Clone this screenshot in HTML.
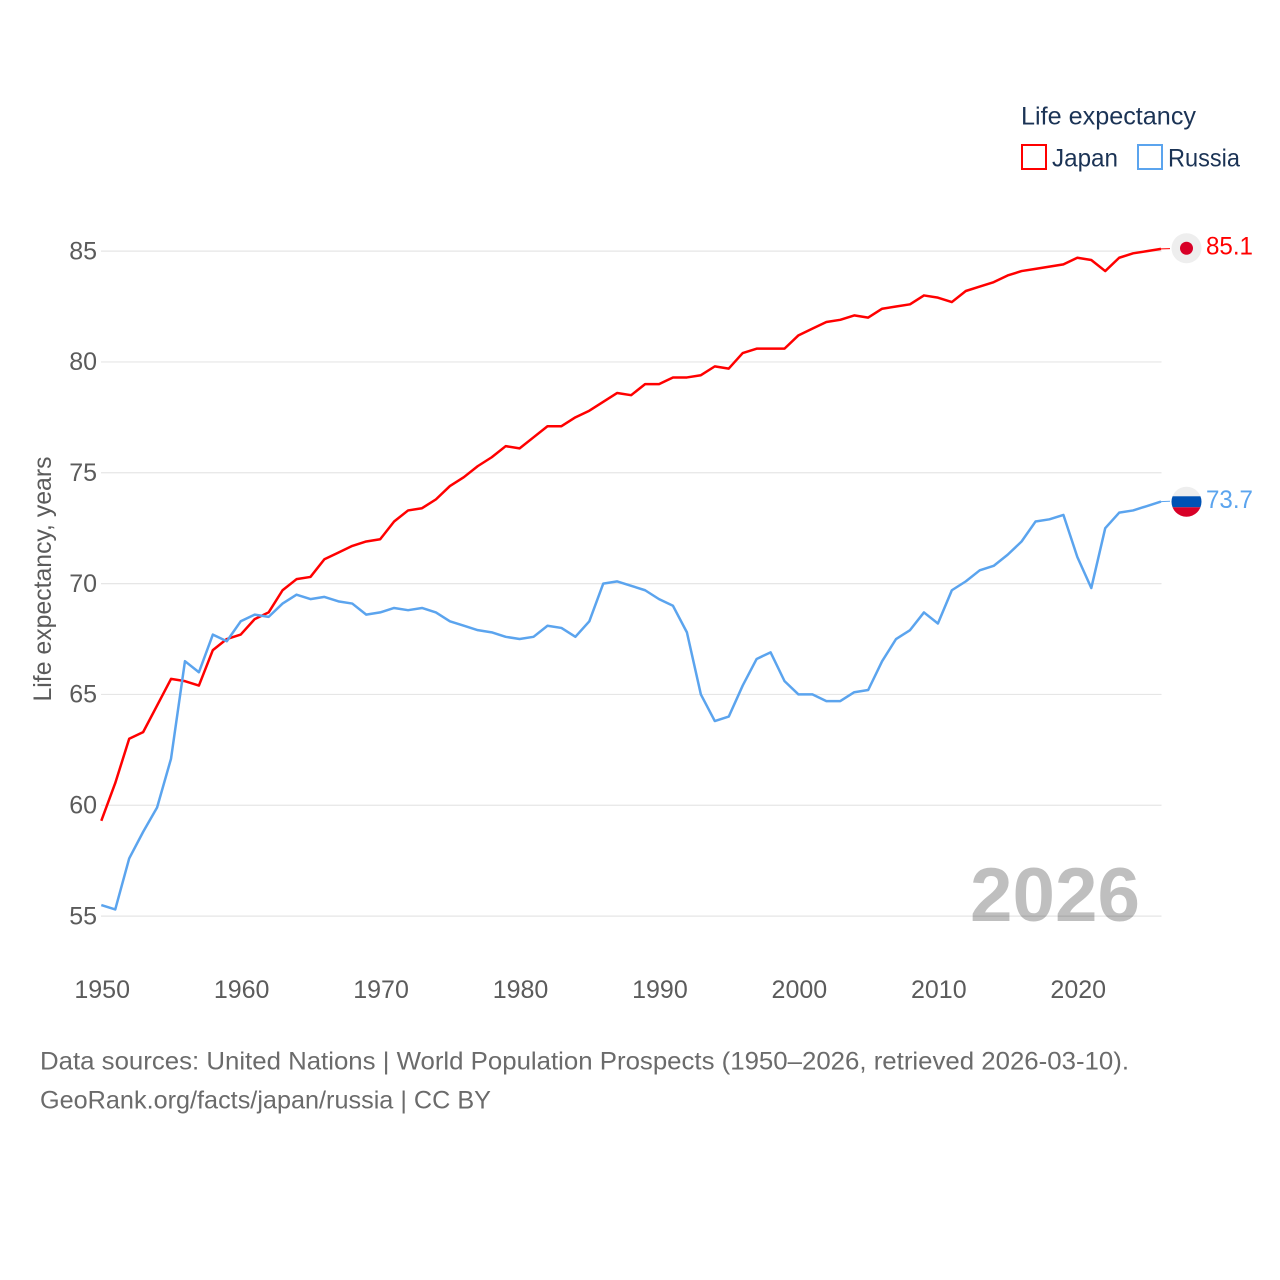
<!DOCTYPE html>
<html lang="en">
<head>
<meta charset="utf-8">
<title>Life expectancy: Japan and Russia</title>
<style>
html,body{margin:0;padding:0;background:#fff}
svg{display:block}
text{font-family:"Liberation Sans",sans-serif}
</style>
</head>
<body>
<svg id="chart" xmlns="http://www.w3.org/2000/svg" width="1280" height="1280" viewBox="0 0 1280 1280">
  <rect width="1280" height="1280" fill="#fff"/>
  <g id="grid"></g>
  <g id="yticks"></g>
  <g id="xticks"></g>
  <text transform="translate(51,579) rotate(-90)" text-anchor="middle" font-size="25" fill="#5b5b5b" textLength="245" lengthAdjust="spacingAndGlyphs">Life expectancy, years</text>
  <text x="970" y="921" font-size="76" font-weight="bold" fill="#000" fill-opacity="0.25" textLength="170" lengthAdjust="spacingAndGlyphs">2026</text>
  <g id="series"></g>
  <g>
    <text x="1021" y="124.5" font-size="25" fill="#1b3355" textLength="175" lengthAdjust="spacingAndGlyphs">Life expectancy</text>
    <rect x="1022" y="145" width="24" height="24" fill="#fff" stroke="#ff0000" stroke-width="2"/>
    <text x="1052" y="166.5" font-size="25" fill="#1b3355" textLength="66" lengthAdjust="spacingAndGlyphs">Japan</text>
    <rect x="1138" y="145" width="24" height="24" fill="#fff" stroke="#5ba4ee" stroke-width="2"/>
    <text x="1168" y="166.5" font-size="25" fill="#1b3355" textLength="72" lengthAdjust="spacingAndGlyphs">Russia</text>
  </g>
  <defs>
    <clipPath id="russia-clip"><circle id="russia-clip-circle" r="15"/></clipPath>
  </defs>
  <g id="end-markers"></g>
  <text x="40" y="1069.5" font-size="25" fill="#6b6b6b" textLength="1089" lengthAdjust="spacingAndGlyphs">Data sources: United Nations | World Population Prospects (1950–2026, retrieved 2026-03-10).</text>
  <text x="40" y="1108.5" font-size="25" fill="#6b6b6b" textLength="451" lengthAdjust="spacingAndGlyphs">GeoRank.org/facts/japan/russia | CC BY</text>
</svg>
<script>
const startYear = 1950;
const japanValues = [59.3,61.0,63.0,63.3,64.5,65.7,65.6,65.4,67.0,67.5,67.7,68.4,68.7,69.7,70.2,70.3,71.1,71.4,71.7,71.9,72.0,72.8,73.3,73.4,73.8,74.4,74.8,75.3,75.7,76.2,76.1,76.6,77.1,77.1,77.5,77.8,78.2,78.6,78.5,79.0,79.0,79.3,79.3,79.4,79.8,79.7,80.4,80.6,80.6,80.6,81.2,81.5,81.8,81.9,82.1,82.0,82.4,82.5,82.6,83.0,82.9,82.7,83.2,83.4,83.6,83.9,84.1,84.2,84.3,84.4,84.7,84.6,84.1,84.7,84.9,85.0,85.1];
const russiaValues = [55.5,55.3,57.6,58.8,59.9,62.1,66.5,66.0,67.7,67.4,68.3,68.6,68.5,69.1,69.5,69.3,69.4,69.2,69.1,68.6,68.7,68.9,68.8,68.9,68.7,68.3,68.1,67.9,67.8,67.6,67.5,67.6,68.1,68.0,67.6,68.3,70.0,70.1,69.9,69.7,69.3,69.0,67.8,65.0,63.8,64.0,65.4,66.6,66.9,65.6,65.0,65.0,64.7,64.7,65.1,65.2,66.5,67.5,67.9,68.7,68.2,69.7,70.1,70.6,70.8,71.3,71.9,72.8,72.9,73.1,71.2,69.8,72.5,73.2,73.3,73.5,73.7];
const yTickValues = [55,60,65,70,75,80,85];
const xTickValues = [1950,1960,1970,1980,1990,2000,2010,2020];

const NS = 'http://www.w3.org/2000/svg';
const xScale = function (year) { return 101.3 + (year - 1950) * (1161 - 101.3) / 76; };
const yScale = function (v) { return 916.1 - (v - 55) * (916.1 - 251.1) / 30; };
const make = function (tag, attrs, parent) {
  const el = document.createElementNS(NS, tag);
  Object.keys(attrs).forEach(function (k) { el.setAttribute(k, attrs[k]); });
  parent.appendChild(el);
  return el;
};

const gridG = document.getElementById('grid');
const yG = document.getElementById('yticks');
yTickValues.forEach(function (v) {
  const gl = make('line', {x1: 101, x2: 1161.5, y1: yScale(v), y2: yScale(v), stroke: '#e6e6e6', 'stroke-width': 1.2}, gridG);
  
  
  const t = make('text', {x: 97, y: yScale(v) + 8.2, 'text-anchor': 'end', 'font-size': 25, fill: '#5b5b5b'}, yG);
  
  
  t.textContent = v;
});

const xG = document.getElementById('xticks');
xTickValues.forEach(function (yr) {
  const t = make('text', {x: xScale(yr) + 0.9, y: 998, 'text-anchor': 'middle', 'font-size': 25, fill: '#5b5b5b'}, xG);
  
  
  t.textContent = yr;
});

const seriesG = document.getElementById('series');
const drawSeries = function (values, color, name) {
  const pts = values.map(function (v, i) {
    return xScale(startYear + i).toFixed(2) + ',' + yScale(v).toFixed(2);
  }).join(' ');
  const line = make('polyline', {points: pts, fill: 'none', stroke: color, 'stroke-width': 2.5, 'stroke-linejoin': 'round'}, seriesG);
  
  
  const lastY = yScale(values[values.length - 1]);
  const conn = make('line', {x1: 1161, x2: 1170, y1: lastY, y2: lastY - 0.3, stroke: color, 'stroke-width': 1}, seriesG);
  
  
};
drawSeries(japanValues, '#ff0000', 'japan');
drawSeries(russiaValues, '#5ba4ee', 'russia');

const markers = document.getElementById('end-markers');
const jpLast = japanValues[japanValues.length - 1];
const ruLast = russiaValues[russiaValues.length - 1];
const jpY = yScale(jpLast) - 0.6;
const ruY = yScale(ruLast) + 0.2;

const jpBg = make('circle', {cx: 1186.5, cy: jpY, r: 15, fill: '#eeeeee'}, markers);


const jpDot = make('circle', {cx: 1186.5, cy: jpY, r: 6.5, fill: '#d80027'}, markers);


const jpLabel = make('text', {x: 1206, y: yScale(jpLast) + 5.5, 'font-size': 25, fill: '#ff0000', textLength: 47, lengthAdjust: 'spacingAndGlyphs'}, markers);


jpLabel.textContent = jpLast.toFixed(1);

const clipC = document.getElementById('russia-clip-circle');
clipC.setAttribute('cx', 1186.5);
clipC.setAttribute('cy', ruY);
const ruFlag = make('g', {'clip-path': 'url(#russia-clip)'}, markers);


make('rect', {x: 1171, y: ruY - 16, width: 31, height: 11, fill: '#eeeeee'}, ruFlag);
make('rect', {x: 1171, y: ruY - 5.5, width: 31, height: 11, fill: '#0052b4'}, ruFlag);
make('rect', {x: 1171, y: ruY + 5.5, width: 31, height: 11, fill: '#d80027'}, ruFlag);
const ruLabel = make('text', {x: 1206, y: ruY + 6, 'font-size': 25, fill: '#5ba4ee', textLength: 47, lengthAdjust: 'spacingAndGlyphs'}, markers);


ruLabel.textContent = ruLast.toFixed(1);
</script>
</body>
</html>
